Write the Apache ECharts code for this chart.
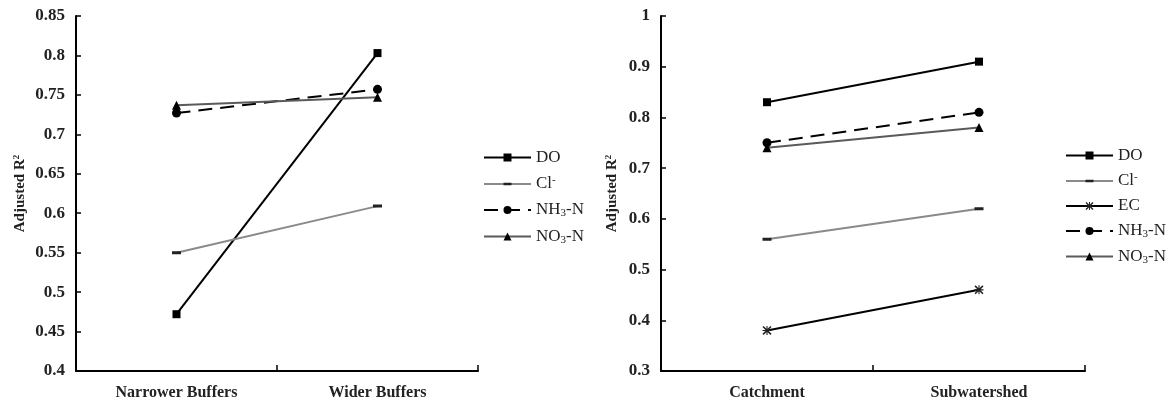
<!DOCTYPE html>
<html><head><meta charset="utf-8">
<script src="https://cdn.jsdelivr.net/npm/echarts@6/dist/echarts.min.js"></script>
<style>html,body{margin:0;padding:0;background:#fff}#c{width:1166px;height:401px}</style>
</head><body><div id="c"></div>
<script>
// Left panel
const catsL = ['Narrower Buffers', 'Wider Buffers'];
const doL = [0.472, 0.803];
const clL = [0.55, 0.609];
const nh3L = [0.727, 0.757];
const no3L = [0.737, 0.747];
const ticksL = { min: 0.4, max: 0.85, interval: 0.05 };
// Right panel
const catsR = ['Catchment', 'Subwatershed'];
const doR = [0.83, 0.91];
const clR = [0.56, 0.62];
const ecR = [0.38, 0.46];
const nh3R = [0.75, 0.81];
const no3R = [0.74, 0.78];
const ticksR = { min: 0.3, max: 1.0, interval: 0.1 };

const FONT = '"Liberation Serif", "Times New Roman", serif';
const asterisk = 'path://M0,1.2L1.2,0L10,8.8L8.8,10Z M8.8,0L10,1.2L1.2,10L0,8.8Z M4.4,0L5.6,0L5.6,10L4.4,10Z M0,4.4L10,4.4L10,5.6L0,5.6Z';
const dash = 'path://M0,3L9,3L9,6L0,6Z M0,0L0.01,0 M0,9L0.01,9';

const styles = {
  DO: { color: '#000', mark: '#000', type: 'solid', symbol: 'rect', size: 8 },
  Cl: { color: '#8a8a8a', mark: '#222', type: 'solid', symbol: dash, size: 9 },
  EC: { color: '#000', mark: '#222', type: 'solid', symbol: asterisk, size: 9 },
  NH3: { color: '#000', mark: '#000', type: [14, 8], symbol: 'circle', size: 9 },
  NO3: { color: '#5a5a5a', mark: '#000', type: 'solid', symbol: 'triangle', size: 9 }
};
const names = { DO: 'DO', Cl: 'Cl{sup|-}', EC: 'EC', NH3: 'NH{sub|3}-N', NO3: 'NO{sub|3}-N' };

function mk(key, data, idx) {
  const s = styles[key];
  return {
    name: key, type: 'line', data: data, xAxisIndex: idx, yAxisIndex: idx,
    symbol: s.symbol, symbolSize: s.size, symbolKeepAspect: true, showSymbol: true,
    lineStyle: { color: s.color, width: 2, type: s.type },
    itemStyle: { color: s.mark, borderWidth: 0 },
    emphasis: { disabled: true }, animation: false, z: 3
  };
}
const rich = {
  sub: { fontSize: 11, fontFamily: FONT, color: '#222', padding: [7, 0, 0, 0] },
  sup: { fontSize: 11, fontFamily: FONT, color: '#222', padding: [0, 0, 7, 0] }
};
function legend(idx, keys, left, top, gap) {
  return {
    show: true, orient: 'vertical', left: left, top: top, itemGap: gap,
    itemWidth: 47, itemHeight: 10,
    data: keys.map(k => ({ name: k + (idx ? '_' : ''), itemStyle: { color: styles[k].mark } })),
    formatter: n => names[n.replace('_', '')],
    textStyle: { fontFamily: FONT, fontSize: 17, color: '#222', rich: rich }
  };
}
function yAx(idx, t) {
  return {
    type: 'value', gridIndex: idx, min: t.min, max: t.max, interval: t.interval,
    name: 'Adjusted R{sup|2}', nameLocation: 'middle', nameRotate: 90, nameGap: idx ? 41 : 48,
    nameTextStyle: { fontFamily: FONT, fontSize: 15, fontWeight: 'bold', color: '#222',
      rich: { sup: { fontSize: 9, fontWeight: 'bold', fontFamily: FONT, padding: [0, 0, 7, 0] } } },
    axisLine: { show: true, lineStyle: { color: '#000', width: 2 } },
    axisTick: { show: true, inside: true, length: 5, lineStyle: { color: '#000', width: 1.5 } },
    splitLine: { show: false },
    axisLabel: { fontFamily: FONT, fontSize: 17, fontWeight: 'bold', color: '#222', margin: 11,
      formatter: v => String(+v.toFixed(2)) }
  };
}
function xAx(idx, cats) {
  return {
    type: 'category', gridIndex: idx, data: cats, boundaryGap: true,
    axisLine: { show: true, lineStyle: { color: '#000', width: 2 } },
    axisTick: { show: true, inside: true, length: 6, lineStyle: { color: '#000', width: 1.5 } },
    axisLabel: { fontFamily: FONT, fontSize: 16, fontWeight: 'bold', color: '#222', margin: 14 }
  };
}

const seriesL = [mk('DO', doL, 0), mk('Cl', clL, 0), mk('NH3', nh3L, 0), mk('NO3', no3L, 0)];
const seriesR = [mk('DO', doR, 1), mk('Cl', clR, 1), mk('EC', ecR, 1), mk('NH3', nh3R, 1), mk('NO3', no3R, 1)]
  .map(s => Object.assign(s, { name: s.name + '_' }));

const chart = echarts.init(document.getElementById('c'), null, { renderer: 'canvas' });
chart.setOption({
  backgroundColor: '#fff',
  animation: false,
  grid: [
    { left: 76, top: 16, width: 402, height: 356 },
    { left: 661, top: 16, width: 424, height: 356 }
  ],
  xAxis: [xAx(0, catsL), xAx(1, catsR)],
  yAxis: [yAx(0, ticksL), yAx(1, ticksR)],
  legend: [
    legend(0, ['DO', 'Cl', 'NH3', 'NO3'], 478, 144, 9),
    legend(1, ['DO', 'Cl', 'EC', 'NH3', 'NO3'], 1060, 142, 8)
  ],
  series: seriesL.concat(seriesR)
});
</script></body></html>
